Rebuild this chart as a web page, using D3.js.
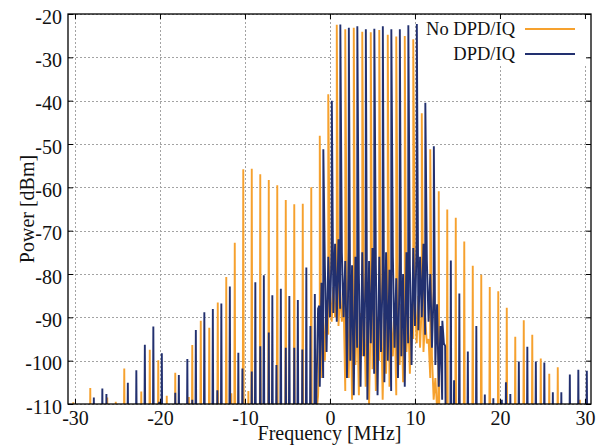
<!DOCTYPE html>
<html>
<head>
<meta charset="utf-8">
<script src="https://cdn.jsdelivr.net/npm/d3@7"></script>
<style>
  body { margin: 0; background: #fff; }
  svg { display: block; font-family: "Liberation Serif", "Times New Roman", serif; }
</style>
</head>
<body>
<svg id="chart" width="607" height="445"></svg>
<script>
// ---- axis ticks and legend labels ----
const xTickValues = [-30, -20, -10, 0, 10, 20, 30];
const yTickValues = [-110, -100, -90, -80, -70, -60, -50, -40, -30, -20];
const seriesNames = ["No DPD/IQ", "DPD/IQ"];
const seriesColors = ["#f6a12e", "#22306f"];

// ---- No DPD/IQ: discrete tones (MHz, dBm) ----
const noDpdToneFreq = [-30.2, -28.2, -26.2, -25.2, -24.2, -22.2, -21.2, -20.2, -19.2, -18.2,
  -16.6, -16.2, -15.2, -14.2, -13.2, -12.2, -11.6, -11.2, -10.2, -9.6,
  -9.2, -8.2, -7.2, -6.2, -5.2, -4.2, -3.2, -2.2, -1.2, -0.2,
  0.8, 1.8, 2.8, 3.8, 4.8, 5.8, 6.8, 7.8, 8.8, 9.8,
  10.8, 11.8, 12.8, 13.8, 14.8, 15.8, 16.8, 17.8, 18.8, 19.8,
  20.8, 21.8, 22.8, 23.8, 24.8, 25.8, 26.8, 29.4];
const noDpdTonePower = [-109.6, -106.3, -108.5, -109.5, -101.8, -107.1, -97.5, -99.9, -108.1, -102.8,
  -108.4, -96.4, -90.8, -92.4, -86.6, -80.7, -107.5, -72.8, -55.8, -107,
  -55.7, -57.0, -58.3, -59.5, -62.9, -63.9, -63.8, -60.0, -48.1, -38.5,
  -22.5, -23.5, -23.2, -24.1, -24.2, -23.7, -24.8, -25.2, -25.1, -25.8,
  -42.9, -51.2, -60.9, -65.1, -67.0, -72.5, -78.1, -80.2, -83.0, -84.0,
  -87.8, -94.5, -90.7, -94.0, -99.5, -103.0, -101.5, -109.0];

// ---- DPD/IQ: discrete tones (MHz, dBm) ----
const dpdToneFreq = [-27.78, -26.78, -26.3, -23.78, -22.78, -21.78, -20.78, -20.1, -19.78, -18.2,
  -17.78, -16.78, -16.2, -15.78, -14.78, -13.78, -13.25, -12.78, -11.78, -10.78,
  -10.3, -9.2, -8.78, -8.2, -7.78, -7.2, -6.78, -6.3, -5.78, -5.2,
  -4.78, -4.2, -3.78, -3.25, -2.78, -2.3, -1.78, -1.26, -0.78, 0.22,
  1.22, 2.22, 3.22, 4.22, 5.22, 6.22, 7.22, 8.22, 9.22, 10.22,
  11.22, 12.22, 13.22, 13.55, 14.22, 14.6, 15.22, 16.22, 17.22, 18.22,
  19.22, 20.22, 20.7, 21.22, 22.22, 23.22, 24.22, 25.22, 26.22, 27.22,
  28.22, 29.22, 30.22];
const dpdTonePower = [-108.5, -106.4, -107.7, -105.1, -102.2, -96.3, -92.1, -109.5, -98.3, -107.4,
  -103.3, -99.6, -109, -92.9, -88.8, -88.1, -106.8, -86.8, -82.9, -98.2,
  -101.8, -102.5, -81.9, -96.7, -80.3, -93.5, -84.9, -101, -83.4, -97,
  -85.1, -97, -86.0, -97.4, -78.5, -92, -84.6, -87.3, -51.2, -40.0,
  -22.4, -23.2, -22.8, -23.5, -23.4, -22.8, -23.5, -23.5, -22.6, -22.3,
  -40.5, -50.5, -90.8, -96.6, -76.9, -104.5, -84.5, -97.9, -92.0, -107.8,
  -108.7, -109, -105, -107.7, -100.2, -96.8, -100.2, -100.4, -107.3, -107.3,
  -103.2, -102.1, -102.3];

// ---- in-band noise traces, sampled every 0.2 MHz (dBm) ----
const noiseStep = 0.2;
const noDpdNoiseStart = -1.4;
const noDpdNoise = [-108, -96, -104, -90, -100, -86, -94, -84, -91, -83,
  -90, -85, -92, -84, -91, -86, -107, -88, -104, -85,
  -109, -90, -101, -87, -108, -89, -99, -86, -106, -91,
  -110, -88, -102, -85, -107, -90, -100, -87, -109, -89,
  -103, -86, -106, -91, -99, -88, -108, -90, -101, -87,
  -105, -92, -98, -89, -103, -88, -95, -86, -96, -85,
  -97, -87, -98, -90, -96, -95, -104, -99, -109, -104,
  -111];
const dpdNoiseStart = -1.6;
const dpdNoise = [-108, -88, -106, -82, -104, -78, -98, -76, -90, -74,
  -89, -73, -91, -72, -88, -75, -90, -77, -104, -74,
  -100, -78, -108, -76, -97, -80, -106, -75, -99, -79,
  -109, -77, -96, -74, -103, -78, -108, -76, -98, -80,
  -105, -75, -100, -79, -107, -76, -97, -81, -104, -77,
  -99, -80, -106, -75, -96, -78, -101, -74, -92, -72,
  -93, -76, -90, -73, -94, -77, -91, -80, -97, -84,
  -101, -87, -106, -92, -109, -96, -111];

// ---- layout ----
const plot = { left: 68, right: 591, top: 14, bottom: 404 };
const x = d3.scaleLinear().domain([-30.82, 30.71]).range([plot.left, plot.right]);
const y = d3.scaleLinear().domain([-110, -20]).range([plot.bottom, plot.top]);
const svg = d3.select("#chart");

// dotted grid
const gridX = svg.append("g").attr("stroke", "#a3a3a3").attr("stroke-width", 1).attr("stroke-dasharray", "2,2");
gridX.selectAll("line").data(xTickValues).join("line")
  .attr("x1", d => Math.round(x(d)) + 0.5).attr("x2", d => Math.round(x(d)) + 0.5)
  .attr("y1", plot.top).attr("y2", plot.bottom);
const gridY = svg.append("g").attr("stroke", "#a3a3a3").attr("stroke-width", 1).attr("stroke-dasharray", "2,2");
gridY.selectAll("line").data(yTickValues).join("line")
  .attr("x1", plot.left).attr("x2", plot.right)
  .attr("y1", d => Math.round(y(d)) + 0.5).attr("y2", d => Math.round(y(d)) + 0.5);

// legend background
const legend = svg.append("g");
legend.append("rect").attr("x", 418).attr("y", 15).attr("width", 168).attr("height", 51).attr("fill", "#fff");

// spectrum traces
svg.append("clipPath").attr("id", "plot-clip").append("rect")
  .attr("x", plot.left).attr("y", plot.top)
  .attr("width", plot.right - plot.left).attr("height", plot.bottom - plot.top);

const floorLevel = -125;
const spikeHalf = 0.07;
function buildTrace(toneF, toneP, noiseStart, noise) {
  const noiseF = noise.map((_, i) => +(noiseStart + i * noiseStep).toFixed(2));
  const lo = noiseF[0], hi = noiseF[noiseF.length - 1];
  const pts = noise.map((p, i) => [noiseF[i], p]);
  toneF.forEach((f, i) => {
    if (f > lo && f < hi) {
      pts.push([f, toneP[i]]);
    } else {
      pts.push([f - spikeHalf, floorLevel], [f, toneP[i]], [f + spikeHalf, floorLevel]);
    }
  });
  pts.sort((a, b) => a[0] - b[0]);
  return pts;
}
const traces = [
  buildTrace(noDpdToneFreq, noDpdTonePower, noDpdNoiseStart, noDpdNoise),
  buildTrace(dpdToneFreq, dpdTonePower, dpdNoiseStart, dpdNoise)
];
const line = d3.line().x(d => x(d[0])).y(d => y(d[1]));
svg.append("g").attr("clip-path", "url(#plot-clip)")
  .selectAll("path").data(traces).join("path")
  .attr("d", line)
  .attr("fill", "none")
  .attr("stroke", (d, i) => seriesColors[i])
  .attr("stroke-width", 1.9);

// frame
svg.append("rect").attr("x", plot.left).attr("y", plot.top)
  .attr("width", plot.right - plot.left).attr("height", plot.bottom - plot.top)
  .attr("fill", "none").attr("stroke", "#000").attr("stroke-width", 1.3);

// axes with inward ticks
const fmt = d => String(d);
svg.append("g").attr("transform", `translate(0,${plot.bottom})`)
  .call(d3.axisBottom(x).tickValues(xTickValues).tickSize(-5).tickPadding(7).tickFormat(fmt));
const axL = svg.append("g").attr("transform", `translate(${plot.left},0)`)
  .call(d3.axisLeft(y).tickValues(yTickValues).tickSize(-5).tickPadding(6).tickFormat(fmt));
svg.append("g").attr("transform", `translate(0,${plot.top})`)
  .call(d3.axisTop(x).tickValues(xTickValues).tickSize(-5).tickFormat(""));
svg.append("g").attr("transform", `translate(${plot.right},0)`)
  .call(d3.axisRight(y).tickValues(yTickValues).tickSize(-5).tickFormat(""));
svg.selectAll(".domain").remove();
svg.selectAll(".tick line").attr("stroke", "#000");
svg.selectAll(".tick text").attr("fill", "#111").style("font-size", "20px")
  .style("font-family", "'Liberation Serif', 'Times New Roman', serif");
axL.selectAll(".tick text").attr("dy", "0.45em");

// axis titles
svg.append("text").attr("x", (plot.left + plot.right) / 2).attr("y", 440)
  .attr("text-anchor", "middle").attr("fill", "#111").style("font-size", "20px")
  .text("Frequency [MHz]");
svg.append("text").attr("transform", `translate(27,${(plot.top + plot.bottom) / 2}) rotate(-90)`)
  .attr("text-anchor", "middle").attr("dy", "0.35em").attr("fill", "#111").style("font-size", "20px")
  .text("Power [dBm]");

// legend entries
const rows = [29, 54];
seriesNames.forEach((name, i) => {
  legend.append("text").attr("x", 515).attr("y", rows[i]).attr("dy", "0.35em")
    .attr("text-anchor", "end").attr("fill", "#111").style("font-size", "18.5px").text(name);
  legend.append("line").attr("x1", 525).attr("x2", 575).attr("y1", rows[i]).attr("y2", rows[i])
    .attr("stroke", seriesColors[i]).attr("stroke-width", 2);
});
</script>
</body>
</html>
